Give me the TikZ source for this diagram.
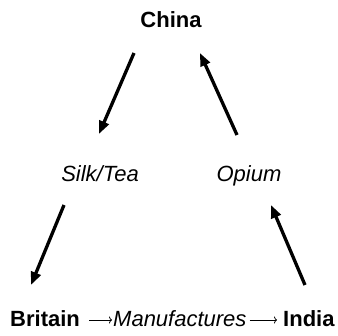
\documentclass[tikz,border=0pt]{standalone}
\usepackage{fontspec}
\setmainfont{Liberation Sans}
\usetikzlibrary{arrows.meta,calc}
\begin{document}
\begin{tikzpicture}[x=1pt,y=1pt,
  lbl/.style={inner sep=0pt},
  place/.style={lbl, font=\fontsize{22}{26}\selectfont\bfseries},
  good/.style={lbl, font=\fontsize{22}{26}\selectfont\itshape},
  flow/.style={line width=3.3pt, -{Triangle[length=13pt,width=10pt]}},
  trade/.style={line width=0.8pt, -{To[length=3pt,width=7pt]}}]
\useasboundingbox (0,0) rectangle (338,336);
% nodes
\node[place, anchor=base] (china) at (171,308) {China};
\node[good, anchor=base] (silk) at (100,154) {Silk/Tea};
\node[good, anchor=base] (opium) at (249,154) {Opium};
\node[place, anchor=base west] (britain) at (10,9) {Britain};
\node[good, anchor=base west] (manuf) at (113,9) {Manufactures};
\node[place, anchor=base west] (india) at (283,9) {India};
% arrow end points
\coordinate (c1) at (134,283);
\coordinate (s1) at (99,202);
\coordinate (o1) at (237,201);
\coordinate (c2) at (200,283);
\coordinate (s2) at (64,131);
\coordinate (b1) at (31,51);
\coordinate (i1) at (305,51);
\coordinate (o2) at (271,131);
\draw[flow] (c1) -- (s1);
\draw[flow] (o1) -- (c2);
\draw[flow] (s2) -- (b1);
\draw[flow] (i1) -- (o2);
% trade arrows on the bottom line
\draw[trade] ($(britain.base east)+(9,7)$) -- ($(manuf.base west)+(-1,7)$);
\draw[trade] ($(manuf.base east)+(3,7)$) -- ($(india.base west)+(-6,7)$);
\end{tikzpicture}
\end{document}
